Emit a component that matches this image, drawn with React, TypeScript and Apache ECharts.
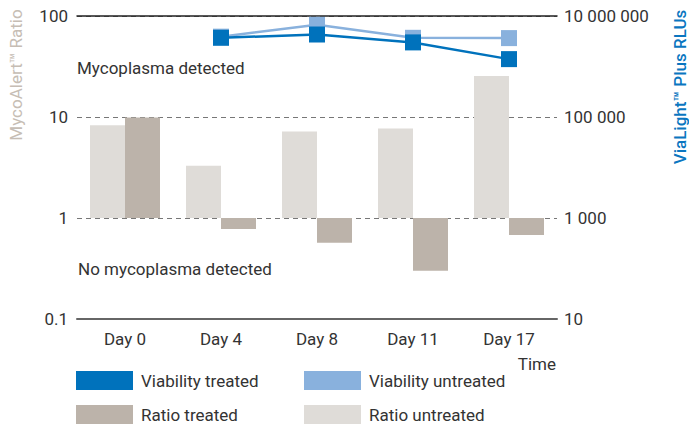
import React, { useEffect, useRef } from "react";
import * as echarts from "echarts";

const days = ["Day 0", "Day 4", "Day 8", "Day 11", "Day 17"];
const ratioUntreated = [8.3, 3.3, 7.2, 7.7, 25.5];
const ratioTreated = [9.9, 0.78, 0.57, 0.3, 0.68];
const viabilityTreated = [null, 3.7e6, 4.3e6, 3.0e6, 1.4e6];
const viabilityUntreated = [null, 3.9e6, 6.7e6, 3.7e6, 3.65e6];
const leftTickLabels = ["0.1", "1", "10", "100"];
const rightTickLabels = ["10", "1 000", "100 000", "10 000 000"];

const FONT = "Roboto";
const TEXT = "#333333";
const C_VT = "#0072bc";
const C_VU = "#89b1dd";
const C_RT = "#bcb3aa";
const C_RU = "#dfdcd8";

const lg = (a: (number | null)[]) => a.map((v) => (v == null ? null : Math.log10(v)));

export default function App() {
  const ref = useRef<HTMLDivElement>(null);
  useEffect(() => {
    if (!ref.current) return;
    const chart = echarts.init(ref.current, null, { renderer: "svg" });
    const legendBase = {
      orient: "horizontal",
      padding: 0,
      itemWidth: 57,
      itemHeight: 19,
      icon: "rect",
      selectedMode: false,
      textStyle: { fontSize: 17, color: TEXT, fontFamily: FONT, padding: [0, 0, 0, 3] },
    };
    chart.setOption({
      animation: false,
      textStyle: { fontFamily: FONT },
      grid: { left: 77, right: 132, top: 16, height: 303, containLabel: false },
      legend: [
        { ...legendBase, left: 76, top: 371, data: ["Viability treated"] },
        { ...legendBase, left: 304, top: 371, data: ["Viability untreated"] },
        { ...legendBase, left: 76, top: 405, data: ["Ratio treated"] },
        { ...legendBase, left: 304, top: 405, data: ["Ratio untreated"] },
      ],
      xAxis: [
        {
          type: "category",
          data: days,
          position: "bottom",
          axisLine: { onZero: false, lineStyle: { color: "#666666", width: 2 } },
          axisTick: { show: false },
          axisLabel: { fontSize: 17, color: TEXT, fontFamily: FONT, margin: 11 },
        },
        {
          type: "category",
          data: days,
          position: "top",
          axisLine: { onZero: false, lineStyle: { color: "#222222", width: 1.5 } },
          axisTick: { show: false },
          axisLabel: { show: false },
        },
      ],
      yAxis: [
        {
          type: "value",
          min: -1,
          max: 2,
          interval: 1,
          position: "left",
          axisLine: { show: false },
          axisTick: { show: false },
          axisLabel: {
            fontSize: 17,
            color: TEXT,
            fontFamily: FONT,
            margin: 9,
            formatter: (v: number) => leftTickLabels[Math.round(v + 1)] ?? "",
          },
          splitLine: { show: true, lineStyle: { color: "#777777", type: [5, 4], width: 1 } },
        },
        {
          type: "value",
          min: 1,
          max: 7,
          interval: 2,
          position: "right",
          axisLine: { show: false },
          axisTick: { show: false },
          axisLabel: {
            fontSize: 17,
            color: TEXT,
            fontFamily: FONT,
            margin: 7,
            formatter: (v: number) => rightTickLabels[Math.round((v - 1) / 2)] ?? "",
          },
          splitLine: { show: false },
        },
      ],
      series: [
        {
          name: "Ratio untreated",
          type: "bar",
          data: lg(ratioUntreated),
          barWidth: 35,
          barGap: "0%",
          itemStyle: { color: C_RU },
          yAxisIndex: 0,
        },
        {
          name: "Ratio treated",
          type: "bar",
          data: lg(ratioTreated),
          barWidth: 35,
          barGap: "0%",
          itemStyle: { color: C_RT },
          yAxisIndex: 0,
        },
        {
          name: "Viability untreated",
          type: "line",
          yAxisIndex: 1,
          data: lg(viabilityUntreated),
          symbol: "rect",
          symbolSize: 16,
          lineStyle: { color: C_VU, width: 2.5 },
          itemStyle: { color: C_VU },
          z: 3,
        },
        {
          name: "Viability treated",
          type: "line",
          yAxisIndex: 1,
          data: lg(viabilityTreated),
          symbol: "rect",
          symbolSize: 16,
          lineStyle: { color: C_VT, width: 2.5 },
          itemStyle: { color: C_VT },
          z: 4,
        },
      ],
      graphic: [
        {
          type: "text",
          x: 16,
          y: 75,
          rotation: Math.PI / 2,
          style: {
            text: "MycoAlert™ Ratio",
            fontSize: 17,
            fontFamily: FONT,
            fill: "#c6bdb4",
            align: "center",
            verticalAlign: "middle",
          },
        },
        {
          type: "text",
          x: 680,
          y: 87,
          rotation: Math.PI / 2,
          style: {
            text: "ViaLight™ Plus RLUs",
            fontSize: 17,
            fontWeight: 500,
            fontFamily: FONT,
            fill: "#0a76c0",
            align: "center",
            verticalAlign: "middle",
          },
        },
        {
          type: "text",
          x: 77,
          y: 68,
          style: {
            text: "Mycoplasma detected",
            fontSize: 17,
            fontFamily: FONT,
            fill: TEXT,
            align: "left",
            verticalAlign: "middle",
          },
        },
        {
          type: "text",
          x: 78,
          y: 269,
          style: {
            text: "No mycoplasma detected",
            fontSize: 17,
            fontFamily: FONT,
            fill: TEXT,
            align: "left",
            verticalAlign: "middle",
          },
        },
        {
          type: "text",
          x: 556,
          y: 364,
          style: {
            text: "Time",
            fontSize: 17,
            fontFamily: FONT,
            fill: TEXT,
            align: "right",
            verticalAlign: "middle",
          },
        },
      ],
    });
    return () => chart.dispose();
  }, []);
  return (
    <div
      ref={ref}
      style={{ position: "fixed", left: 0, top: 0, width: 689, height: 429, background: "#ffffff" }}
    />
  );
}
